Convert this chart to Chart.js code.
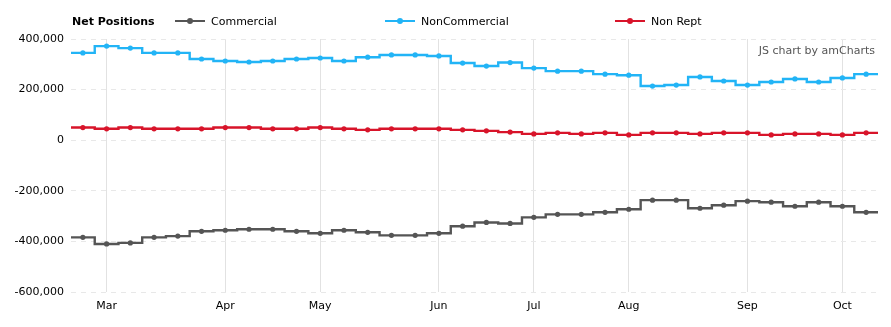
<!DOCTYPE html>
<html>
<head>
<meta charset="utf-8">
<script src="https://cdn.jsdelivr.net/npm/chart.js@4/dist/chart.umd.min.js"></script>
<style>
  html, body { margin: 0; padding: 0; background: #fff; overflow: hidden; }
  #wrap { position: relative; width: 891px; height: 327px; font-family: "DejaVu Sans", Verdana, sans-serif; }
  #c { position: absolute; left: 0; top: 0; }
  .lg { position: absolute; font-size: 11px; color: #000; line-height: 14px; top: 15px; white-space: nowrap; }
  .lg.title { font-weight: bold; left: 72px; }
  .mk { position: absolute; top: 20px; width: 30px; height: 2px; }
  .mk i { position: absolute; left: 12px; top: -2px; width: 6px; height: 6px; border-radius: 3px; }
  #credit { position: absolute; right: 16px; top: 44px; font-size: 11px; color: #555; white-space: nowrap; }
</style>
</head>
<body>
<div id="wrap">
  <canvas id="c" width="891" height="327"></canvas>
  <div class="lg title">Net Positions</div>
  <div id="legend"></div>
  <div id="credit">JS chart by amCharts</div>
</div>
<script>
const dates = [
  "2016-02-23",
  "2016-03-01","2016-03-08","2016-03-15","2016-03-22","2016-03-29",
  "2016-04-05","2016-04-12","2016-04-19","2016-04-26",
  "2016-05-03","2016-05-10","2016-05-17","2016-05-24","2016-05-31",
  "2016-06-07","2016-06-14","2016-06-21","2016-06-28",
  "2016-07-05","2016-07-12","2016-07-19","2016-07-26",
  "2016-08-02","2016-08-09","2016-08-16","2016-08-23","2016-08-30",
  "2016-09-06","2016-09-13","2016-09-20","2016-09-27",
  "2016-10-04","2016-10-11"
];
const monthNames = ["Jan","Feb","Mar","Apr","May","Jun","Jul","Aug","Sep","Oct","Nov","Dec"];

const commercial = [
  -384000, -410000, -406000, -384000, -379000, -360000, -356000, -352000, -352000, -360000,
  -368000, -356000, -364000, -376000, -376000, -368000, -340000, -325000, -329000, -305000,
  -293000, -293000, -285000, -273000, -237000, -237000, -269000, -257000, -241000, -245000,
  -261000, -245000, -261000, -285000
];
const nonCommercial = [
  345000, 372000, 364000, 345000, 345000, 321000, 313000, 309000, 313000, 321000,
  325000, 313000, 328000, 337000, 337000, 333000, 305000, 293000, 307000, 285000,
  273000, 273000, 261000, 257000, 214000, 218000, 250000, 234000, 218000, 230000,
  242000, 230000, 246000, 261000
];
const nonRept = [
  50000, 45000, 50000, 45000, 45000, 45000, 50000, 50000, 45000, 45000,
  50000, 45000, 41000, 45000, 45000, 45000, 41000, 37000, 32000, 25000,
  29000, 25000, 29000, 21000, 29000, 29000, 25000, 29000, 29000, 21000,
  25000, 25000, 21000, 29000
];
const seriesNames = ["Commercial", "NonCommercial", "Non Rept"];
const seriesColors = ["#555555", "#22b4f6", "#d8142a"];
const seriesValues = [commercial, nonCommercial, nonRept];
const yMin = -600000, yMax = 400000, yStep = 200000;

function monthTick(i) {
  if (i === 0) return "";
  const m = +dates[i].slice(5, 7), pm = +dates[i - 1].slice(5, 7);
  return m !== pm ? monthNames[m - 1] : "";
}

// HTML legend
const legendPos = [[175, 211], [385, 421], [615, 651]];
const legend = document.getElementById("legend");
seriesNames.forEach((n, k) => {
  const mk = document.createElement("div");
  mk.className = "mk";
  mk.style.left = legendPos[k][0] + "px";
  mk.style.background = seriesColors[k];
  const dot = document.createElement("i");
  dot.style.background = seriesColors[k];
  mk.appendChild(dot);
  legend.appendChild(mk);
  const t = document.createElement("div");
  t.className = "lg";
  t.style.left = legendPos[k][1] + "px";
  t.textContent = n;
  legend.appendChild(t);
});

const edgeStubs = {
  id: "edgeStubs",
  beforeDatasetsDraw(chart) {
    const { ctx, chartArea } = chart;
    chart.data.datasets.forEach((ds, di) => {
      const pts = chart.getDatasetMeta(di).data;
      if (!pts.length) return;
      const f = pts[0], l = pts[pts.length - 1];
      ctx.save();
      ctx.strokeStyle = ds.borderColor;
      ctx.lineWidth = ds.borderWidth;
      ctx.beginPath();
      ctx.moveTo(chartArea.left, f.y); ctx.lineTo(f.x, f.y);
      ctx.moveTo(l.x, l.y); ctx.lineTo(chartArea.right, l.y);
      ctx.stroke();
      ctx.restore();
    });
  }
};

Chart.defaults.font.family = '"DejaVu Sans", Verdana, sans-serif';
Chart.defaults.font.size = 11;
Chart.defaults.color = "#000";

new Chart(document.getElementById("c"), {
  type: "line",
  data: {
    labels: dates,
    datasets: seriesNames.map((n, k) => ({
      label: n,
      data: seriesValues[k],
      borderColor: seriesColors[k],
      backgroundColor: seriesColors[k],
      pointBackgroundColor: seriesColors[k],
      pointBorderWidth: 0,
      pointRadius: 2.6,
      borderWidth: 2.4,
      stepped: "middle",
      fill: false
    }))
  },
  options: {
    responsive: false,
    animation: false,
    events: [],
    layout: { padding: { top: 39, right: 13, left: 0, bottom: 0 } },
    plugins: { legend: { display: false }, tooltip: { enabled: false } },
    scales: {
      x: {
        type: "category",
        offset: true,
        afterFit: s => { s.height = 35; },
        grid: {
          drawTicks: false,
          color: c => (c.tick && monthTick(c.index) ? "#e2e2e2" : "rgba(0,0,0,0)"),
          lineWidth: 1
        },
        border: { display: false },
        ticks: {
          autoSkip: false,
          maxRotation: 0,
          padding: 8,
          callback: (v, i) => monthTick(i)
        }
      },
      y: {
        min: yMin, max: yMax,
        afterFit: s => { s.width = 71; },
        grid: { drawTicks: false, color: "#e8e8e8", lineWidth: 1 },
        border: { display: false, dash: [5, 5] },
        ticks: {
          stepSize: yStep,
          padding: 7,
          callback: v => v.toLocaleString("en-US")
        }
      }
    }
  },
  plugins: [edgeStubs]
});
</script>
</body>
</html>
